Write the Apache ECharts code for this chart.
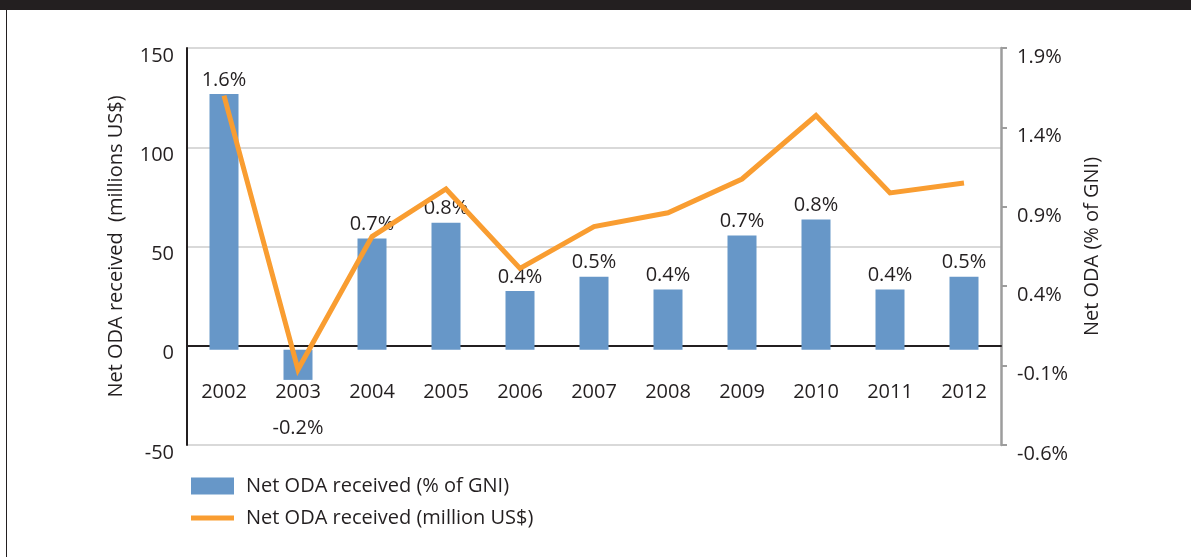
<!DOCTYPE html>
<html>
<head>
<meta charset="utf-8">
<script src="https://cdn.jsdelivr.net/npm/echarts@6/dist/echarts.min.js"></script>
<style>
  html, body { margin: 0; padding: 0; background: #ffffff; }
  #chart { width: 1191px; height: 557px; }
</style>
</head>
<body>
<div id="chart"></div>
<script>
// Years on the category axis
const years = ['2002', '2003', '2004', '2005', '2006', '2007', '2008', '2009', '2010', '2011', '2012'];
// Net ODA received, % of GNI (bars, right axis)
const odaPctGni = [1.61, -0.19, 0.70, 0.80, 0.37, 0.46, 0.38, 0.72, 0.82, 0.38, 0.46];
// Net ODA received, million US$ (line, left axis)
const odaMillionUsd = [126, -12, 55, 79, 39, 60, 67, 84, 116, 77, 82];
// Tick values shown on the right-hand axis
const pctTicks = [-0.6, -0.1, 0.4, 0.9, 1.4, 1.9];

const FONT = '"Open Sans", "Noto Sans", sans-serif';
const FS = 20;
const INK = '#231f20';
const BAR = '#6797c8';
const LINE = '#f99d31';
const NAME_BAR = 'Net ODA received (% of GNI)';
const NAME_LINE = 'Net ODA received (million US$)';

const chart = echarts.init(document.getElementById('chart'), null, { renderer: 'canvas' });

// negative values get their label under the year labels
const barData = odaPctGni.map(function (v) {
  if (v < 0) {
    return { value: v, label: { position: 'bottom', distance: 38 } };
  }
  return v;
});

chart.setOption({
  animation: false,
  backgroundColor: '#ffffff',
  textStyle: { fontFamily: FONT, color: INK },
  graphic: [
    { type: 'rect', left: 0, top: 0, shape: { width: 1191, height: 10 }, style: { fill: INK }, silent: true },
    { type: 'rect', left: 6, top: 10, shape: { width: 1, height: 547 }, style: { fill: INK }, silent: true }
  ],
  grid: { left: 187, right: 190, top: 48, bottom: 112, containLabel: false },
  legend: {
    orient: 'vertical',
    left: 186,
    top: 471,
    itemWidth: 43,
    itemHeight: 17,
    itemGap: 12,
    selectedMode: false,
    textStyle: { fontFamily: FONT, fontSize: FS, color: INK, lineHeight: 20, padding: [0, 0, 0, 7] },
    data: [
      { name: NAME_BAR, icon: 'rect' },
      { name: NAME_LINE, icon: 'path://M0,0H86V10H0Z' }
    ]
  },
  xAxis: {
    type: 'category',
    data: years,
    boundaryGap: true,
    axisLine: { show: true, onZero: true, onZeroAxisIndex: 0, lineStyle: { color: INK, width: 2 } },
    axisTick: { show: false },
    axisLabel: { margin: -63, fontFamily: FONT, fontSize: FS, color: INK, verticalAlign: 'top', lineHeight: 20 },
    splitLine: { show: false }
  },
  yAxis: [
    {
      type: 'value',
      position: 'left',
      min: -50,
      max: 150,
      interval: 50,
      name: 'Net ODA received  (millions US$)',
      nameLocation: 'middle',
      nameGap: 59,
      nameTextStyle: { fontFamily: FONT, fontSize: FS, color: INK, lineHeight: 24 },
      axisLine: { show: true, lineStyle: { color: INK, width: 2 } },
      axisTick: { show: false },
      axisLabel: { margin: 13, fontFamily: FONT, fontSize: FS, color: INK, verticalAlign: 'top', lineHeight: 16 },
      splitLine: { show: true, lineStyle: { color: '#d9d9d9', width: 2 } }
    },
    {
      type: 'value',
      position: 'right',
      min: -0.6,
      max: 1.9,
      name: 'Net ODA (% of GNI)',
      nameLocation: 'middle',
      nameGap: 79,
      nameTextStyle: { fontFamily: FONT, fontSize: FS, color: INK, lineHeight: 24 },
      axisLine: { show: true, lineStyle: { color: '#9d9d9d', width: 2.5 } },
      axisTick: { show: true, inside: false, length: 6, customValues: pctTicks, lineStyle: { color: '#9d9d9d', width: 2 } },
      axisLabel: {
        margin: 16,
        fontFamily: FONT,
        fontSize: FS,
        color: INK,
        verticalAlign: 'top',
        lineHeight: 18,
        customValues: pctTicks,
        formatter: function (v) { return v.toFixed(1) + '%'; }
      },
      splitLine: { show: false }
    }
  ],
  series: [
    {
      name: NAME_BAR,
      type: 'bar',
      yAxisIndex: 1,
      data: barData,
      barWidth: 29,
      itemStyle: { color: BAR },
      z: 2,
      label: {
        show: true,
        position: 'top',
        distance: 4,
        fontFamily: FONT,
        fontSize: FS,
        color: INK,
        formatter: function (p) { return p.value.toFixed(1) + '%'; }
      }
    },
    {
      name: NAME_LINE,
      type: 'line',
      yAxisIndex: 0,
      data: odaMillionUsd,
      showSymbol: false,
      symbol: 'none',
      z: 5,
      itemStyle: { color: LINE },
      lineStyle: { color: LINE, width: 5, join: 'miter' }
    }
  ]
});
</script>
</body>
</html>
